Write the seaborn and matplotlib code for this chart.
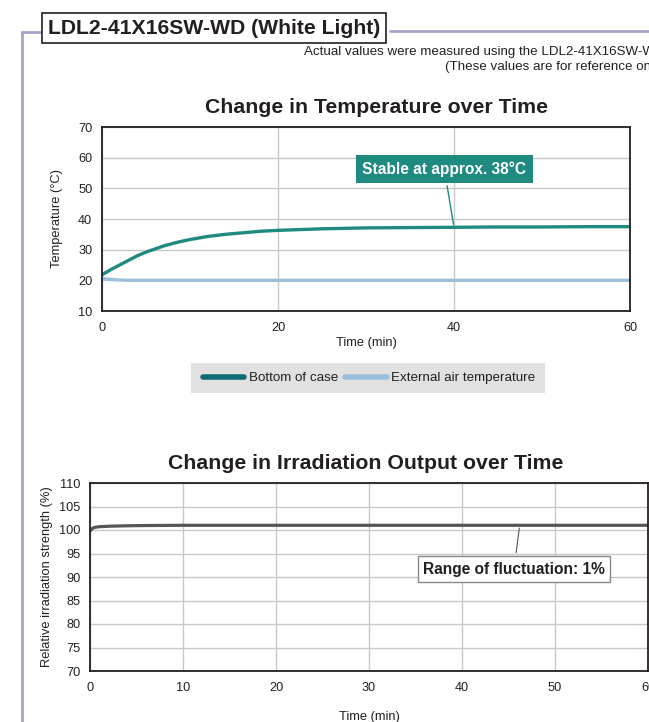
import matplotlib
matplotlib.use("Agg")
import matplotlib.pyplot as plt
from matplotlib.lines import Line2D
from matplotlib.patches import Rectangle
import seaborn as sns
import pandas as pd

# data
temp_time = [0, 1, 2, 3, 4, 5, 6, 7, 8, 9, 10, 12, 14, 16, 18, 20, 25, 30, 35, 40, 45, 50, 55, 60]
case_temp = [21.8, 23.5, 25.0, 26.5, 28.0, 29.2, 30.2, 31.2, 32.0, 32.7, 33.3, 34.3, 35.0, 35.5,
             36.0, 36.3, 36.8, 37.1, 37.2, 37.3, 37.4, 37.4, 37.5, 37.5]
air_temp = [20.6, 20.3, 20.1, 20.0, 20.0, 20.0, 20.0, 20.0, 20.0, 20.0, 20.0, 20.0, 20.0, 20.0,
            20.0, 20.0, 20.0, 20.0, 20.0, 20.0, 20.0, 20.0, 20.0, 20.0]
irr_time = [0, 0.3, 0.6, 1, 2, 4, 6, 10, 20, 30, 40, 50, 60]
irr_value = [99.8, 100.4, 100.6, 100.7, 100.8, 100.9, 100.95, 101.0, 101.0, 101.0, 101.0, 101.0, 101.0]
series_names = ["Bottom of case", "External air temperature"]

teal = "#1e8a80"
air_blue = "#9dbfdc"
frame_col = "#a9a3cc"
ink = "#231f20"

sns.set_theme(style="white")
plt.rcParams["font.family"] = ["Liberation Sans", "DejaVu Sans"]

temp_df = pd.concat([
    pd.DataFrame({"time": temp_time, "temp": case_temp, "series": series_names[0]}),
    pd.DataFrame({"time": temp_time, "temp": air_temp, "series": series_names[1]}),
])
irr_df = pd.DataFrame({"time": irr_time, "value": irr_value})

fig = plt.figure(figsize=(6.49, 7.22), dpi=100)

# page frame and header
fig.add_artist(Line2D([22/649, 22/649], [0, 1 - 32/722], color=frame_col, lw=2))
fig.add_artist(Line2D([22/649, 40/649], [1 - 32/722, 1 - 32/722], color=frame_col, lw=2))
fig.add_artist(Line2D([390/649, 1], [1 - 31/722, 1 - 31/722], color=frame_col, lw=2))
fig.text(214/649, 1 - 28/722, "LDL2-41X16SW-WD (White Light)", ha="center", va="center",
         fontsize=15.2, fontweight="bold", color=ink,
         bbox=dict(boxstyle="square,pad=0.27", fc="white", ec=ink, lw=1.2))
# these two lines run off the right edge, as in the original
fig.text(668/649, 1 - 52/722, "Actual values were measured using the LDL2-41X16SW-WD.",
         ha="right", va="center", fontsize=9.6, color=ink)
fig.text(668/649, 1 - 67/722, "(These values are for reference only.)",
         ha="right", va="center", fontsize=9.6, color=ink)

# temperature chart
ax1 = fig.add_axes([102/649, 1 - 311/722, 528/649, 184/722])
sns.lineplot(data=temp_df, x="time", y="temp", hue="series",
             palette=[teal, air_blue], linewidth=2.4, legend=False, ax=ax1)
ax1.set_xlim(0, 60)
ax1.set_ylim(10, 70)
ax1.set_xticks([0, 20, 40, 60])
ax1.set_yticks(range(10, 71, 10))
ax1.set_title("Change in Temperature over Time", fontsize=15.3, fontweight="bold",
              color=ink, pad=10, x=0.519)
ax1.set_xlabel("Time (min)", fontsize=9.3, color=ink, labelpad=2)
ax1.set_ylabel("Temperature (°C)", fontsize=9.3, color=ink, labelpad=11)
ax1.annotate("Stable at approx. 38°C", xy=(40, 37.3), xytext=(38.9, 56.3),
             ha="center", va="center", fontsize=11.2, fontweight="bold", color="white",
             bbox=dict(boxstyle="square,pad=0.4", fc=teal, ec="none"),
             arrowprops=dict(arrowstyle="-", color=teal, lw=1))

# legend: grey band behind a frameless legend
fig.add_artist(Rectangle((191/649, 1 - 393/722), 354/649, 30/722,
                         transform=fig.transFigure, fc="#e1e1e1", ec="none"))
handles = [Line2D([], [], color="#0f6c74", lw=4, solid_capstyle="round"),
           Line2D([], [], color=air_blue, lw=4, solid_capstyle="round")]
fig.legend(handles, series_names, loc="center", bbox_to_anchor=(369/649, 1 - 378/722),
           ncol=2, frameon=False, fontsize=9.6, handlelength=3.1, handletextpad=0.35,
           columnspacing=0.55, labelcolor=ink)

# irradiation chart
ax2 = fig.add_axes([90/649, 1 - 671/722, 558/649, 188/722])
sns.lineplot(data=irr_df, x="time", y="value", color="#555555", linewidth=2.3, ax=ax2)
ax2.set_xlim(0, 60)
ax2.set_ylim(70, 110)
ax2.set_xticks(range(0, 61, 10))
ax2.set_yticks(range(70, 111, 5))
ax2.set_title("Change in Irradiation Output over Time", fontsize=15.3, fontweight="bold",
              color=ink, pad=10, x=0.494)
ax2.set_xlabel("Time (min)", fontsize=9.3, color=ink, labelpad=12)
ax2.set_ylabel("Relative irradiation strength (%)", fontsize=9.3, color=ink, labelpad=4)
ax2.annotate("Range of fluctuation: 1%", xy=(46.2, 101), xytext=(45.6, 91.7),
             ha="center", va="center", fontsize=11.2, fontweight="bold", color=ink,
             bbox=dict(boxstyle="square,pad=0.35", fc="white", ec="#888888", lw=1),
             arrowprops=dict(arrowstyle="-", color="#555555", lw=0.8))

for ax in (ax1, ax2):
    ax.grid(True, color="#c8c8c8", lw=1)
    ax.set_axisbelow(True)
    for s in ax.spines.values():
        s.set_color(ink)
        s.set_linewidth(1.3)
    ax.tick_params(direction="in", length=4, width=1, colors=ink,
                   labelsize=9.2, pad=7)
    ax.tick_params(axis="x", pad=8)

fig.savefig("out.png", dpi=100)
